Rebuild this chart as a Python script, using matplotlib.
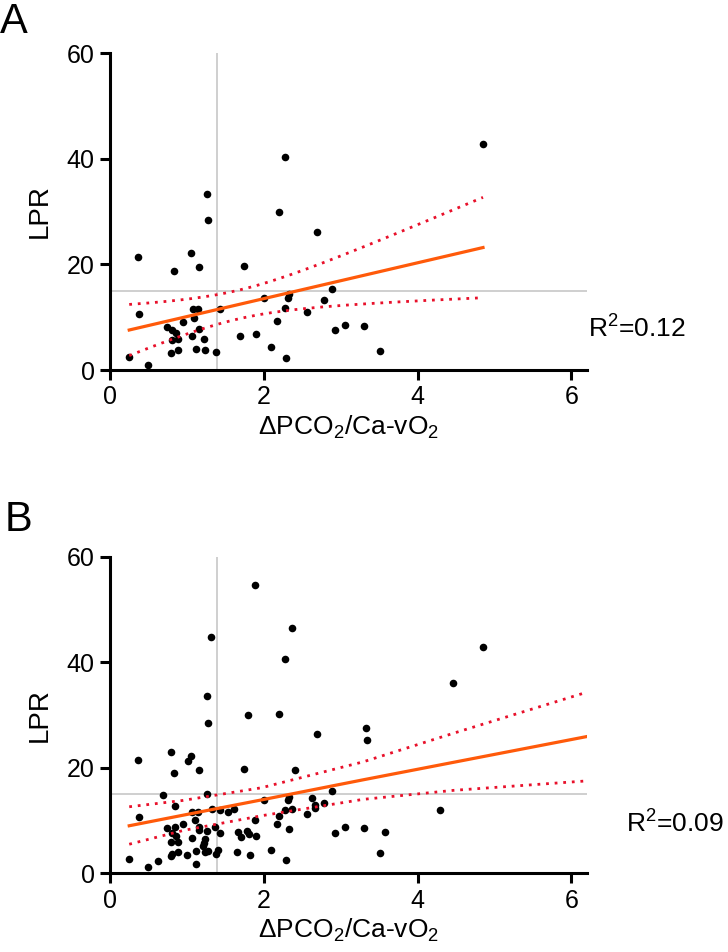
import numpy as np
import matplotlib
matplotlib.use("Agg")
import matplotlib.pyplot as plt

# panel A data
xa = [2.27, 1.26, 1.28, 2.20, 2.69, 0.36, 1.05, 0.83, 1.16, 1.74,
      0.38, 2.00, 2.33, 2.31, 2.27, 2.88, 2.78, 2.56, 1.43, 1.08,
      1.14, 1.09, 0.95, 0.74, 0.80, 0.86, 1.16, 1.06, 0.80, 0.89,
      1.22, 1.69, 1.90, 2.17, 2.93, 3.06, 2.09, 1.12, 1.23, 1.38,
      0.88, 0.79, 0.25, 0.49, 2.29, 4.85, 3.30, 3.51]
ya = [40.3, 33.4, 28.4, 30.0, 26.2, 21.4, 22.1, 18.7, 19.5, 19.7,
      10.6, 13.6, 14.3, 13.7, 11.8, 15.4, 13.3, 11.0, 11.6, 11.5,
      11.5, 9.9, 9.1, 8.2, 7.6, 7.0, 7.8, 6.4, 5.7, 5.8,
      5.8, 6.5, 6.8, 9.3, 7.5, 8.5, 4.3, 4.0, 3.7, 3.5,
      3.7, 3.2, 2.5, 0.9, 2.3, 42.8, 8.3, 3.6]

# panel B data
xb = [1.89, 1.31, 2.37, 2.27, 1.26, 1.28, 1.80, 2.20, 2.69, 0.36,
      0.79, 1.05, 1.02, 0.83, 1.16, 1.74, 2.40, 0.69, 1.26, 0.84,
      0.38, 2.88, 2.63, 2.33, 2.32, 2.00, 2.66, 2.66, 2.78, 2.27,
      2.37, 2.20, 2.56, 1.32, 1.43, 1.53, 1.61, 1.07, 1.14, 1.10,
      0.95, 0.85, 0.74, 1.16, 1.16, 1.36, 1.26, 1.88, 2.17, 2.33,
      0.80, 0.86, 1.43, 1.67, 1.78, 1.81, 1.70, 1.90, 1.06, 1.24,
      0.79, 0.89, 1.22, 1.21, 2.93, 3.06, 2.09, 1.65, 1.82, 1.12,
      1.24, 1.27, 1.40, 1.38, 0.88, 1.00, 0.80, 0.79, 0.25, 0.62,
      0.49, 1.12, 2.29, 4.85, 4.46, 3.33, 3.34, 4.29, 3.30, 3.57,
      3.51]
yb = [54.6, 44.7, 46.5, 40.5, 33.6, 28.5, 29.9, 30.1, 26.4, 21.5,
      23.0, 22.3, 21.2, 18.9, 19.6, 19.8, 19.5, 14.8, 15.1, 12.8,
      10.7, 15.6, 14.3, 14.5, 13.9, 13.8, 12.9, 12.4, 13.4, 12.0,
      12.1, 10.9, 11.2, 12.2, 11.9, 11.7, 12.1, 11.6, 11.6, 10.0,
      9.3, 8.7, 8.5, 8.8, 8.2, 8.8, 8.1, 10.0, 9.4, 8.3,
      7.6, 7.1, 7.6, 7.8, 8.1, 7.5, 6.8, 7.0, 6.6, 6.4,
      5.9, 6.0, 5.8, 5.1, 7.7, 8.7, 4.5, 4.1, 3.5, 4.2,
      4.0, 4.3, 4.4, 3.7, 4.0, 3.5, 3.6, 3.3, 2.7, 2.3,
      1.1, 1.7, 2.5, 42.9, 36.1, 27.6, 25.2, 11.9, 8.5, 7.8,
      3.8]

# panel B fit + 95% band as drawn in the figure (some points overlap there,
# so refitting the visible dots doesn't reproduce it)
bx_fit = [0.25, 0.95, 1.97, 3.29, 4.46, 6.2]
by_fit = [9.0, 11.0, 13.9, 17.7, 21.0, 25.9]
by_hi = [12.6, 13.8, 16.2, 21.1, 26.5, 34.3]
by_lo = [5.5, 8.1, 10.9, 14.0, 15.7, 17.5]

x_cut = 1.39
y_cut = 15
r2_labels = ["R$^2$=0.12", "R$^2$=0.09"]

plt.rcParams['font.family'] = ['Liberation Sans', 'DejaVu Sans']
plt.rcParams['mathtext.fontset'] = 'custom'
plt.rcParams['mathtext.rm'] = 'Liberation Sans'

ORANGE = '#ff5a0a'
RED = '#e8102a'
DOTS = (0, (1, 2.1))


def t975(df):
    z = 1.959964
    return z + (z**3 + z) / (4 * df) + (5 * z**5 + 16 * z**3 + 3 * z) / (96 * df**2)


def fit_band(x, y, xs):
    x = np.asarray(x)
    y = np.asarray(y)
    n = len(x)
    m, c = np.polyfit(x, y, 1)
    res = y - (m * x + c)
    s = np.sqrt(np.sum(res**2) / (n - 2))
    sxx = np.sum((x - x.mean())**2)
    yhat = m * xs + c
    half = t975(n - 2) * s * np.sqrt(1 / n + (xs - x.mean())**2 / sxx)
    return yhat, yhat - half, yhat + half


fig = plt.figure(figsize=(7.28, 9.52), dpi=100)
axA = fig.add_axes([0.1511, 0.6113, 0.655, 0.333])
axB = fig.add_axes([0.1511, 0.0827, 0.655, 0.3327])


def style(ax, letter, r2txt, r2x, r2y, lety, letx):
    ax.axvline(x_cut, color='#cccccc', lw=1.3, zorder=1)
    ax.axhline(y_cut, color='#cccccc', lw=1.3, zorder=1)
    ax.set_xlim(0, 6.2)
    ax.set_ylim(0, 60)
    ax.set_xticks([0, 2, 4, 6])
    ax.set_yticks([0, 20, 40, 60])
    for side in ('top', 'right'):
        ax.spines[side].set_visible(False)
    for side in ('left', 'bottom'):
        ax.spines[side].set_linewidth(2.2)
    ax.tick_params(width=2.2, length=7, labelsize=18, pad=4)
    ax.set_ylabel("LPR", fontsize=20, labelpad=10)
    ax.set_xlabel(r"$\Delta$PCO$_2$/Ca-vO$_2$", fontsize=19, labelpad=3)
    ax.text(r2x, r2y, r2txt, fontsize=19, va='baseline', ha='left', clip_on=False)
    ax.text(letx, lety, letter, transform=ax.transAxes, fontsize=30,
            ha='left', va='top')


# A: fit computed from the dots
axA.scatter(xa, ya, s=30, color='black', zorder=3, linewidths=0)
xs = np.linspace(min(xa), max(xa), 200)
yhat, lo, hi = fit_band(xa, ya, xs)
axA.plot(xs, yhat, color=ORANGE, lw=2.3, zorder=4)
axA.plot(xs, lo, color=RED, lw=2.0, linestyle=DOTS, zorder=4)
axA.plot(xs, hi, color=RED, lw=2.0, linestyle=DOTS, zorder=4)
style(axA, "A", r2_labels[0], 6.22, 6.3, 1.16, -0.23)

# B
axB.scatter(xb, yb, s=30, color='black', zorder=3, linewidths=0)
axB.plot(bx_fit, by_fit, color=ORANGE, lw=2.3, zorder=4)
axB.plot(bx_fit, by_lo, color=RED, lw=2.0, linestyle=DOTS, zorder=4)
axB.plot(bx_fit, by_hi, color=RED, lw=2.0, linestyle=DOTS, zorder=4)
style(axB, "B", r2_labels[1], 6.71, 7.8, 1.177, -0.222)

plt.savefig("out.png", dpi=100)
